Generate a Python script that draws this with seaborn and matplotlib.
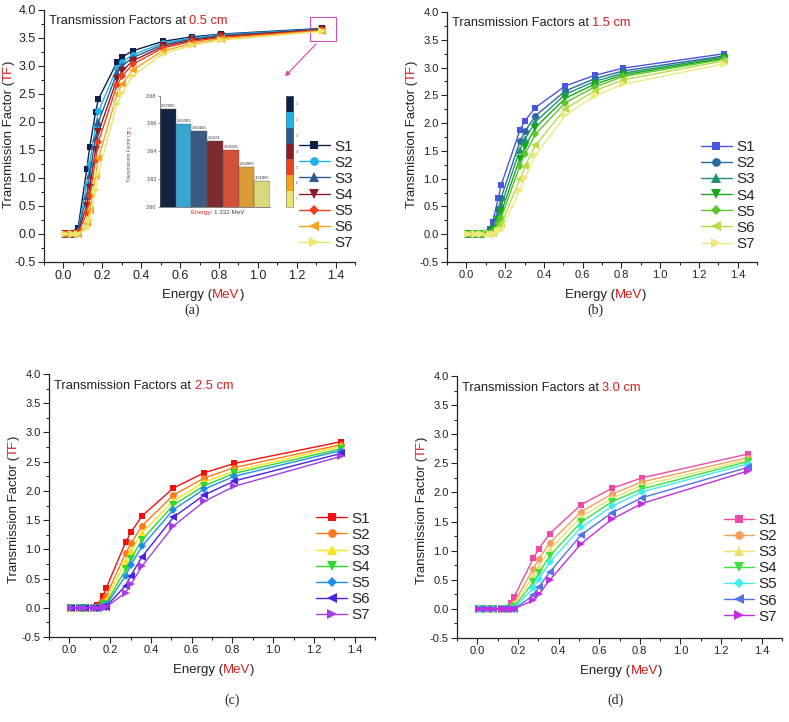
import numpy as np
import pandas as pd
import seaborn as sns
import matplotlib.pyplot as plt
import matplotlib.ticker as mticker
from matplotlib.patches import Rectangle
from matplotlib.colors import ListedColormap

sns.set_theme(style="ticks")
plt.rcParams["font.family"] = ["Liberation Sans", "DejaVu Sans"]

W, H = 789, 722

samples = ["S1", "S2", "S3", "S4", "S5", "S6", "S7"]
energy = [0.01, 0.05, 0.075, 0.12, 0.135, 0.165, 0.18, 0.276, 0.302, 0.356, 0.511, 0.662, 0.81, 1.332]

# transmission factor, one row per sample
tf_05 = [
    [0, 0, 0.10, 1.16, 1.55, 2.17, 2.41, 3.07, 3.16, 3.27, 3.44, 3.52, 3.57, 3.671],
    [0, 0, 0.06, 0.88, 1.25, 1.92, 2.19, 2.97, 3.07, 3.20, 3.41, 3.50, 3.56, 3.660],
    [0, 0, 0.04, 0.68, 1.05, 1.72, 2.00, 2.88, 3.00, 3.15, 3.38, 3.48, 3.54, 3.655],
    [0, 0, 0.02, 0.50, 0.83, 1.50, 1.82, 2.77, 2.91, 3.09, 3.35, 3.46, 3.53, 3.647],
    [0, 0, 0.01, 0.37, 0.67, 1.33, 1.65, 2.66, 2.82, 3.03, 3.32, 3.44, 3.51, 3.641],
    [0, 0, 0.00, 0.20, 0.42, 1.03, 1.35, 2.50, 2.68, 2.93, 3.27, 3.40, 3.49, 3.629],
    [0, 0, 0.00, 0.10, 0.25, 0.78, 1.08, 2.33, 2.52, 2.82, 3.22, 3.37, 3.46, 3.619],
]
tf_15 = [
    [0, 0, 0, 0.09, 0.22, 0.65, 0.89, 1.87, 2.04, 2.28, 2.67, 2.86, 2.99, 3.25],
    [0, 0, 0, 0.05, 0.15, 0.45, 0.66, 1.67, 1.85, 2.13, 2.58, 2.80, 2.94, 3.21],
    [0, 0, 0, 0.03, 0.10, 0.35, 0.52, 1.52, 1.71, 2.02, 2.52, 2.75, 2.90, 3.19],
    [0, 0, 0, 0.02, 0.07, 0.25, 0.40, 1.36, 1.57, 1.92, 2.45, 2.70, 2.87, 3.17],
    [0, 0, 0, 0.01, 0.04, 0.20, 0.30, 1.23, 1.44, 1.80, 2.37, 2.65, 2.84, 3.15],
    [0, 0, 0, 0.00, 0.02, 0.12, 0.18, 0.99, 1.22, 1.60, 2.26, 2.58, 2.78, 3.12],
    [0, 0, 0, 0.00, 0.00, 0.05, 0.08, 0.79, 1.01, 1.42, 2.14, 2.49, 2.70, 3.07],
]
tf_25 = [
    [0, 0, 0, 0.02, 0.04, 0.20, 0.33, 1.12, 1.29, 1.57, 2.05, 2.31, 2.47, 2.84],
    [0, 0, 0, 0.01, 0.02, 0.12, 0.20, 0.93, 1.10, 1.40, 1.93, 2.22, 2.40, 2.79],
    [0, 0, 0, 0.00, 0.01, 0.07, 0.12, 0.80, 0.97, 1.28, 1.83, 2.15, 2.34, 2.76],
    [0, 0, 0, 0.00, 0.00, 0.04, 0.07, 0.66, 0.84, 1.16, 1.76, 2.09, 2.30, 2.72],
    [0, 0, 0, 0.00, 0.00, 0.02, 0.04, 0.55, 0.73, 1.05, 1.68, 2.03, 2.25, 2.69],
    [0, 0, 0, 0.00, 0.00, 0.01, 0.02, 0.38, 0.55, 0.87, 1.55, 1.93, 2.17, 2.64],
    [0, 0, 0, 0.00, 0.00, 0.00, 0.01, 0.26, 0.40, 0.71, 1.40, 1.82, 2.08, 2.59],
]
tf_30 = [
    [0, 0, 0, 0, 0.01, 0.10, 0.20, 0.87, 1.03, 1.29, 1.79, 2.07, 2.25, 2.66],
    [0, 0, 0, 0, 0.00, 0.05, 0.10, 0.69, 0.85, 1.13, 1.67, 1.97, 2.18, 2.60],
    [0, 0, 0, 0, 0.00, 0.03, 0.06, 0.57, 0.72, 1.02, 1.58, 1.90, 2.12, 2.56],
    [0, 0, 0, 0, 0.00, 0.01, 0.03, 0.46, 0.61, 0.91, 1.49, 1.84, 2.06, 2.53],
    [0, 0, 0, 0, 0.00, 0.00, 0.01, 0.36, 0.51, 0.80, 1.40, 1.76, 2.01, 2.49],
    [0, 0, 0, 0, 0.00, 0.00, 0.00, 0.23, 0.37, 0.63, 1.27, 1.65, 1.91, 2.43],
    [0, 0, 0, 0, 0.00, 0.00, 0.00, 0.15, 0.25, 0.49, 1.12, 1.54, 1.81, 2.37],
]

# inset: TF at 1.332 MeV, 0.5 cm
inset_vals = [3.67065, 3.65985, 3.65484, 3.6474, 3.64106, 3.62866, 3.61865]
inset_labels = ["3.67065", "3.65985", "3.65484", "3.6474", "3.64106", "3.62866", "3.61865"]

pal_a = ["#0c2148", "#1fb1ea", "#2f5a8d", "#8b1c26", "#ec3f1e", "#f6a21c", "#ece46c"]
pal_b = ["#4a55e2", "#2c6a9c", "#21927a", "#17a81a", "#5cc52c", "#b5dd48", "#efe87e"]
pal_c = ["#f01010", "#ff7a1a", "#ffe21a", "#2fd82f", "#1e8fe6", "#4a22e0", "#a43fe6"]
pal_d = ["#f04aa6", "#f2a060", "#eee070", "#3ee03e", "#3eeeee", "#5272ee", "#c22ee0"]

markers = dict(zip(samples, ["s", "o", "^", "v", "D", "<", ">"]))
# matplotlib's triangles/diamond look smaller/bigger than Origin's, even them out
msize = {"s": 4.6, "o": 5.0, "^": 5.4, "v": 5.4, "<": 5.4, ">": 5.4, "D": 4.1}

panels = [
    ("0.5 cm", tf_05, pal_a, [44, 10, 355, 262], "(a)", (192, 310), 9),
    ("1.5 cm", tf_15, pal_b, [447, 12, 757, 262], "(b)", (595, 310), 8),
    ("2.5 cm", tf_25, pal_c, [49, 374, 375, 637], "(c)", (232, 700), 8),
    ("3.0 cm", tf_30, pal_d, [457, 376, 782, 638], "(d)", (615, 700), 8),
]

RED = "#d42020"

fig = plt.figure(figsize=(W / 100, H / 100), dpi=100)


def rich(ax, x, y, parts, size, rotation=0, transform=None):
    s0, c0 = parts[0]
    if rotation == 0:
        t = ax.text(x, y, s0, color=c0, fontsize=size, ha="left", va="center",
                    transform=transform)
        for s, c in parts[1:]:
            t = ax.annotate(s, xy=(1, 0), xycoords=t, ha="left", va="bottom",
                            color=c, fontsize=size, annotation_clip=False)
    else:
        t = ax.text(x, y, s0, color=c0, fontsize=size, ha="center", va="bottom",
                    rotation=90, transform=transform)
        for s, c in parts[1:]:
            t = ax.annotate(s, xy=(0, 1), xycoords=t, ha="left", va="bottom",
                            rotation=90, color=c, fontsize=size, annotation_clip=False)


for dist, vals, pal, box, cap, cpos, tsize in panels:
    l, t, r, b = box
    ax = fig.add_axes([l / W, 1 - b / H, (r - l) / W, (b - t) / H])
    df = pd.DataFrame({
        "Energy": np.tile(energy, len(samples)),
        "TF": np.ravel(vals),
        "Sample": np.repeat(samples, len(energy)),
    })
    sns.lineplot(df, x="Energy", y="TF", hue="Sample", style="Sample",
                 markers=markers, dashes=False, palette=pal, linewidth=1,
                 markersize=4.6, markeredgewidth=0, sort=False, errorbar=None, ax=ax)
    for ln in ax.lines:
        m = ln.get_marker()
        if m in msize:
            ln.set_markersize(msize[m])

    ax.set_xlim(-0.1, 1.5)
    ax.set_ylim(-0.5, 4.0)
    ax.xaxis.set_major_locator(mticker.MultipleLocator(0.2))
    ax.xaxis.set_minor_locator(mticker.MultipleLocator(0.1))
    ax.yaxis.set_major_locator(mticker.MultipleLocator(0.5))
    ax.yaxis.set_minor_locator(mticker.MultipleLocator(0.25))
    ax.xaxis.set_major_formatter(mticker.FormatStrFormatter("%.1f"))
    ax.yaxis.set_major_formatter(mticker.FormatStrFormatter("%.1f"))
    ax.tick_params(which="major", direction="out", length=4, width=0.8,
                   labelsize=tsize, pad=2, labelcolor="#222222")
    ax.tick_params(which="minor", direction="out", length=2, width=0.8)
    sns.despine(ax=ax)
    for sp in ax.spines.values():
        sp.set_linewidth(0.9)
        sp.set_color("#222222")
    ax.set_xlabel("")
    ax.set_ylabel("")

    leg = ax.legend(loc="center left", bbox_to_anchor=(0.82, 0.266), frameon=False,
                    fontsize=11, labelspacing=0.14, handlelength=2.0, handletextpad=0.3,
                    borderpad=0, borderaxespad=0)
    for h in leg.legend_handles:
        m = h.get_marker()
        if m in msize:
            h.set_markersize(msize[m] * 1.25)
            h.set_markeredgewidth(0)

    rich(ax, 0.015, 0.955, [("Transmission Factors at ", "#222222"), (dist, RED)], 9.3,
         transform=ax.transAxes)

    # axis labels
    xl = l + (r - l) * 0.38
    rich(ax, xl / W, 1 - (b + 33) / H, [("Energy (", "#222222"), ("MeV", RED), (")", "#222222")],
         9.5, transform=fig.transFigure)
    rich(ax, (l - 35) / W, 1 - (b - 54) / H,
         [("Transmission Factor (", "#222222"), ("TF", RED), (")", "#222222")],
         9.5, rotation=90, transform=fig.transFigure)

    fig.text(cpos[0] / W, 1 - cpos[1] / H, cap, family="Liberation Serif", fontsize=10,
             ha="center", va="center")

    if cap == "(a)":
        ax.add_patch(Rectangle((1.27, 3.45), 0.13, 0.42, fill=False, ec="#d050c0", lw=0.8))
        ax.annotate("", xy=(1.13, 2.78), xytext=(1.31, 3.43),
                    arrowprops=dict(arrowstyle="-|>", color="#e040b0", lw=0.8,
                                    mutation_scale=7))

        # inset bar chart
        ins = fig.add_axes([160 / W, 1 - 206.7 / H, 110 / W, 111 / H])
        idf = pd.DataFrame({"Sample": samples, "TF": inset_vals})
        sns.barplot(idf, x="Sample", y="TF", hue="Sample", palette=pal, legend=False,
                    width=1.0, edgecolor="#555555", linewidth=0.3, ax=ins)
        ins.set_xlim(-0.5, 6.5)
        ins.set_ylim(3.60, 3.68)
        ins.yaxis.set_major_locator(mticker.MultipleLocator(0.02))
        ins.yaxis.set_major_formatter(mticker.FormatStrFormatter("%.2f"))
        ins.set_xticks([])
        ins.tick_params(axis="y", labelsize=3.8, length=1.5, width=0.4, pad=1, colors="#444444")
        for i, lab in enumerate(inset_labels):
            ins.text(i - 0.45, inset_vals[i] + 0.0006, lab, fontsize=3, color="#333333",
                     ha="left", va="bottom")
        sns.despine(ax=ins)
        for sp in ins.spines.values():
            sp.set_linewidth(0.5)
            sp.set_color("#555555")
        ins.set_xlabel("")
        ins.set_ylabel("")
        rich(ins, 130 / W, 1 - 182 / H,
             [("Transmission Factor (", "#555555"), ("TF", RED), (")", "#555555")],
             3.5, rotation=90, transform=fig.transFigure)
        rich(ins, 191 / W, 1 - 213 / H, [("Energy: ", RED), ("1.332 MeV", "#444444")],
             4.5, transform=fig.transFigure)

        cb = fig.add_axes([285.7 / W, 1 - 206.7 / H, 7.6 / W, 111 / H])
        cb.imshow(np.arange(7).reshape(7, 1), cmap=ListedColormap(pal), aspect="auto",
                  interpolation="nearest")
        cb.set_xticks([])
        cb.set_yticks(range(7))
        cb.set_yticklabels([str(i + 1) for i in range(7)])
        cb.yaxis.tick_right()
        cb.tick_params(axis="y", labelsize=2.5, length=1, width=0.3, pad=1, colors="#555555")
        for sp in cb.spines.values():
            sp.set_linewidth(0.4)
            sp.set_color("#777777")

fig.savefig("out.png", dpi=100)
